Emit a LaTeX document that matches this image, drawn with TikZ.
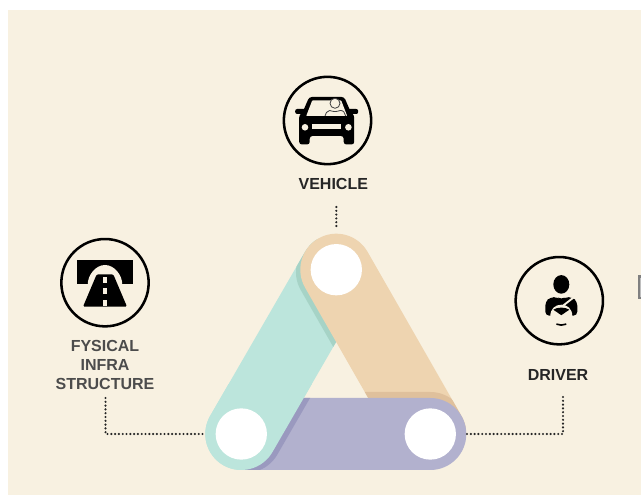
\documentclass[tikz,border=0pt]{standalone}
\usepackage{fontspec}
\setmainfont{Liberation Sans}
\usetikzlibrary{calc}
\definecolor{bgcream}{HTML}{F8F1E1}
\definecolor{bandgreen}{HTML}{BCE5DC}
\definecolor{bandtan}{HTML}{EED4B0}
\definecolor{bandpurple}{HTML}{B2B1CE}
\definecolor{darkgreen}{HTML}{A6D3C6}
\definecolor{darktan}{HTML}{DFC09C}
\definecolor{darkpurple}{HTML}{9A99BF}
\newcommand{\bandpath}[3]{($(#1)+(#3:36)$) -- ($(#2)+(#3:36)$) arc[start angle=#3,delta angle=-180,radius=36] -- ($(#1)+(#3+180:36)$) arc[start angle=#3+180,delta angle=-180,radius=36] -- cycle}
\tikzset{
    ring/.style={circle,draw=black,line width=1.9pt,minimum size=65.5pt,inner sep=0pt},
    hole/.style={circle,fill=white,minimum size=38.5pt,inner sep=0pt},
    caption/.style={font=\fontsize{12}{13.9}\selectfont\bfseries,align=center,inner sep=0pt},
    dotline/.style={line width=1.8pt,line cap=round,dash pattern=on 0pt off 2.85pt,black!85}
}

\begin{document}
\begin{tikzpicture}[x=0.75pt,y=0.75pt]
    \useasboundingbox (0,0) rectangle (641,495);
    \fill[bgcream](8,0)rectangle(641,485);
    \fill[gray](637.7,195.5)rectangle(641,219.5);
    \fill[gray!50](640,198)rectangle(641,217);

    \coordinate (top) at (336.3,225.3);
    \coordinate (left) at (241.3,61);
    \coordinate (right) at (430.3,61);
    \coordinate (greentop) at ($(top)+(-120:5)$);
    \coordinate (tanend) at ($(right)+(120:5)$);
    \coordinate (purplestart) at ($(left)+(5,0)$);
    \coordinate (shadetop) at ($(top)+(210:5)$);
    \coordinate (shaderight) at ($(right)+(210:5)$);
    \coordinate (shadeleft) at ($(left)+(0,6)$);
    \coordinate (shadeend) at ($(right)+(0,6)$);
    \coordinate (shadegreentop) at ($(top)+(-30:5.5)$);
    \coordinate (shadegreenleft) at ($(left)+(-30:5.5)$);

    \fill[bandgreen]\bandpath{greentop}{left}{-30};
    \begin{scope}
        \clip\bandpath{top}{left}{-30};
        \fill[darkgreen]\bandpath{shadetop}{shaderight}{30};
    \end{scope}
    \fill[bandtan]\bandpath{top}{tanend}{30};
    \begin{scope}
        \clip\bandpath{top}{right}{30};
        \fill[darktan]\bandpath{shadeleft}{shadeend}{90};
    \end{scope}
    \fill[bandpurple]\bandpath{purplestart}{right}{90};
    \begin{scope}
        \clip\bandpath{purplestart}{right}{90};
        \fill[darkpurple]\bandpath{shadegreentop}{shadegreenleft}{-30};
    \end{scope}
    \begin{scope}
        \clip(190,10)rectangle(340,110);
        \fill[bandgreen]\bandpath{top}{left}{-30};
    \end{scope}

    \node[hole] (tophole) at (top) {};
    \node[hole] (lefthole) at (left) {};
    \node[hole] (righthole) at (right) {};

    \node[ring] (vehicleicon) at (327.5,374.5) {};
    \node[ring] (infraicon) at (105,212.3) {};
    \node[ring] (drivericon) at (559.3,194.3) {};

    \node[caption,text=black!85] (vehiclelabel) at (333.3,311) {VEHICLE};
    \node[caption,text=black!70] (infralabel) at (105,130) {FYSICAL\\INFRA\\STRUCTURE};
    \node[caption,text=black!85] (driverlabel) at (558,120.5) {DRIVER};

    \coordinate (vehicleend) at (336.3,288);
    \coordinate (infraend) at (105.5,97);
    \coordinate (driverend) at (563,98);
    \draw[dotline,shorten >=12pt] (vehicleend) -- (tophole.north);
    \draw[dotline,shorten >=9.5pt] (infraend) |- (lefthole.west);
    \draw[dotline,shorten >=8pt] (driverend) |- (righthole.east);

    % car
    \begin{scope}[shift={(326.7,374)}]
        \fill[black,rounded corners=1.5pt](-31.5,12)rectangle(31.5,7);
        \fill[black,rounded corners=2pt](-17.5,24)--(17.5,24)--(24,9)--(27.5,6)--(27.5,-23.5)--(17,-23.5)--(17,-15)--(-17,-15)--(-17,-23.5)--(-27.5,-23.5)--(-27.5,6)--(-24,9)--cycle;
        \fill[bgcream,rounded corners=0.5pt](-14.5,20.5)--(14.5,20.5)--(20.5,5)--(-20.5,5)--cycle;
        \fill[bgcream](-21.7,-6.3)circle(3.3);
        \fill[bgcream](21.7,-6.3)circle(3.3);
        \fill[bgcream](-14.5,-3.3)rectangle(14.5,-8);
        \draw[black!75,line width=0.6pt,fill=bgcream](8.3,17.7)circle(5);
        \draw[black!75,line width=0.6pt](-1.7,5)to[out=80,in=190](3,10.5)to[out=-20,in=200](13.5,10.5)to[out=10,in=100](19,5);
    \end{scope}

    % bridge and road
    \begin{scope}[shift={(105,212.3)}]
        \fill[black](-28,22.7)rectangle(28,-1.7);
        \fill[bgcream](-17.3,-2)..controls(-17.3,8)and(-9,17.7)..(0,17.7)..controls(9,17.7)and(17.3,8)..(17.3,-2)--cycle;
        \fill[black,rounded corners=1pt](-8.3,8.3)--(8.3,8.3)--(22,-24)--(-22,-24)--cycle;
        \fill[bgcream](-1.7,6)rectangle(1.7,0);
        \fill[bgcream](-1.7,-5.7)rectangle(1.7,-11.7);
        \fill[bgcream](-1.7,-17.3)rectangle(1.7,-23.3);
    \end{scope}

    % driver
    \begin{scope}[shift={(561.3,194.3)}]
        \fill[black](0,16.3)ellipse[x radius=8,y radius=9.3];
        \fill[black,rounded corners=3pt](-16,-15)--(-16,-1)--(-11,3.5)--(-4,3.5)--(0,1)--(4,3.5)--(11,3.5)--(16,-1)--(16,-15)--cycle;
        \draw[bgcream,line width=1.4pt](12,3)--(1.7,-5);
        \fill[bgcream](-11,-15.5)..controls(-11,-8)and(-6,-4)..(0,-4)..controls(6,-4)and(11,-8)..(11,-15.5)--cycle;
        \fill[black](-8,-9)..controls(-4,-6.2)and(4,-6.2)..(8,-9)--(0,-14.5)--cycle;
        \draw[black,line width=1.2pt,line cap=round](-4.5,-23.5)to[bend right=20](4.5,-23.5);
    \end{scope}
\end{tikzpicture}
\end{document}
